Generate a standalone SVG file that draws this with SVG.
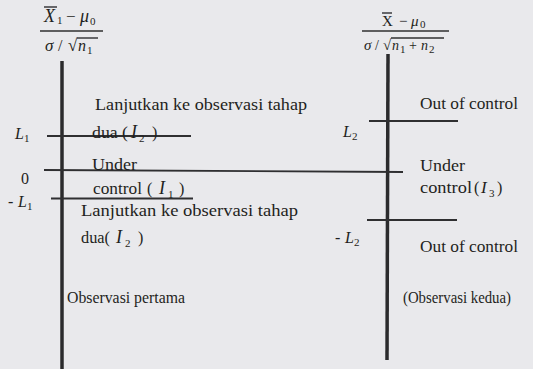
<svg xmlns="http://www.w3.org/2000/svg" width="533" height="369" viewBox="0 0 533 369" font-family="'Liberation Serif','Times New Roman',serif">
<style>
text{font-family:"Liberation Serif","Times New Roman",serif;fill:#1f1f21}
.t{font-size:16px}
.it{font-style:italic}
.sub{font-size:11px}
.ax{stroke:#2b2b2d;stroke-width:3.5;fill:none}
.ln{stroke:#2f2f31;stroke-width:1.8;fill:none}
.bar{stroke:#2f2f31;stroke-width:1.4;fill:none}
</style>
<rect width="533" height="369" fill="#e9e9ec"/>

<g id="formula-left">
<text x="44" y="22" class="it" font-size="18">X</text>
<line x1="44" y1="7" x2="57" y2="7" class="bar"/>
<text x="57" y="24" class="sub">1</text>
<text x="66" y="22" font-size="17">−</text>
<text x="80" y="22" class="it" font-size="18">μ</text>
<text x="90" y="25" class="sub">0</text>
<line x1="40" y1="31" x2="103" y2="31" class="bar"/>
<text x="45" y="51" class="it" font-size="17">σ</text>
<text x="58" y="51" font-size="16">/</text>
<text x="68" y="51" font-size="17">√</text>
<line x1="77" y1="38" x2="98" y2="38" class="bar"/>
<text x="78" y="51" class="it" font-size="16">n</text>
<text x="87" y="54" class="sub">1</text>
</g>

<g id="formula-right">
<text x="382" y="26" font-size="15">X</text>
<line x1="382" y1="13" x2="392" y2="13" class="bar"/>
<text x="399" y="26" font-size="15">−</text>
<text x="411" y="26" class="it" font-size="15">μ</text>
<text x="420" y="28" class="sub">0</text>
<line x1="362" y1="31" x2="449" y2="31" class="bar"/>
<text x="364" y="50" class="it" font-size="15">σ</text>
<text x="375" y="50" font-size="14">/</text>
<text x="383" y="50" font-size="15">√</text>
<line x1="391" y1="38" x2="444" y2="38" class="bar"/>
<text x="392" y="50" class="it" font-size="14">n</text>
<text x="400" y="53" class="sub" font-size="10">1</text>
<text x="409" y="50" font-size="14">+</text>
<text x="421" y="50" class="it" font-size="14">n</text>
<text x="429" y="53" class="sub" font-size="10">2</text>
</g>

<g id="connectors">
<line x1="62" y1="61" x2="62" y2="369" class="ax"/>
<line x1="388" y1="54" x2="387" y2="360" class="ax"/>
<line x1="47" y1="136" x2="191" y2="136" class="ln"/>
<line x1="44" y1="170" x2="403" y2="172" class="ln"/>
<line x1="51" y1="198.5" x2="193" y2="198.5" class="ln"/>
<line x1="369" y1="121" x2="458" y2="121" class="ln"/>
<line x1="367" y1="220" x2="457" y2="220" class="ln"/>
</g>

<g id="labels-left">
<text x="15" y="139" class="it" font-size="16">L</text>
<text x="24" y="142" class="sub">1</text>
<text x="21" y="184" font-size="16">0</text>
<text x="8" y="207" font-size="16">-</text>
<text x="18" y="207" class="it" font-size="16">L</text>
<text x="27" y="210" class="sub">1</text>
</g>

<g id="labels-right">
<text x="343" y="137" class="it" font-size="16">L</text>
<text x="352" y="140" class="sub">2</text>
<text x="335" y="243" font-size="16">-</text>
<text x="345" y="243" class="it" font-size="16">L</text>
<text x="354" y="246" class="sub">2</text>
</g>

<g id="region-continue-top">
<text x="95" y="110" class="t" textLength="212" lengthAdjust="spacingAndGlyphs">Lanjutkan ke observasi tahap</text>
<text x="92" y="138" class="t" textLength="36" lengthAdjust="spacingAndGlyphs">dua (</text>
<text x="131" y="138" class="it" font-size="18">I</text>
<text x="139" y="142" class="sub">2</text>
<text x="152" y="138" class="t">)</text>
</g>

<g id="region-under-1">
<text x="92" y="170" class="t" textLength="45" lengthAdjust="spacingAndGlyphs">Under</text>
<text x="93" y="194" class="t" textLength="49" lengthAdjust="spacingAndGlyphs">control</text>
<text x="147" y="194" class="t">(</text>
<text x="159" y="194" class="it" font-size="18">I</text>
<text x="168" y="198" class="sub">1</text>
<text x="179" y="194" class="t">)</text>
</g>

<g id="region-continue-bottom">
<text x="81" y="216" class="t" textLength="217" lengthAdjust="spacingAndGlyphs">Lanjutkan ke observasi tahap</text>
<text x="81" y="243" class="t" textLength="29" lengthAdjust="spacingAndGlyphs">dua(</text>
<text x="116" y="243" class="it" font-size="18">I</text>
<text x="125" y="247" class="sub">2</text>
<text x="138" y="243" class="t">)</text>
</g>

<g id="obs-first">
<text x="67" y="303" class="t" textLength="118" lengthAdjust="spacingAndGlyphs">Observasi pertama</text>
</g>

<g id="region-out-top">
<text x="420" y="109" class="t" textLength="98" lengthAdjust="spacingAndGlyphs">Out of control</text>
</g>

<g id="region-under-3">
<text x="420" y="171" class="t" textLength="45" lengthAdjust="spacingAndGlyphs">Under</text>
<text x="420" y="193" class="t" textLength="52" lengthAdjust="spacingAndGlyphs">control</text>
<text x="474" y="193" class="t">(</text>
<text x="481" y="193" class="it" font-size="17">I</text>
<text x="489" y="197" class="sub">3</text>
<text x="497" y="193" class="t">)</text>
</g>

<g id="region-out-bottom">
<text x="420" y="252" class="t" textLength="98" lengthAdjust="spacingAndGlyphs">Out of control</text>
</g>

<g id="obs-second">
<text x="403" y="303" class="t" textLength="108" lengthAdjust="spacingAndGlyphs">(Observasi kedua)</text>
</g>
</svg>
